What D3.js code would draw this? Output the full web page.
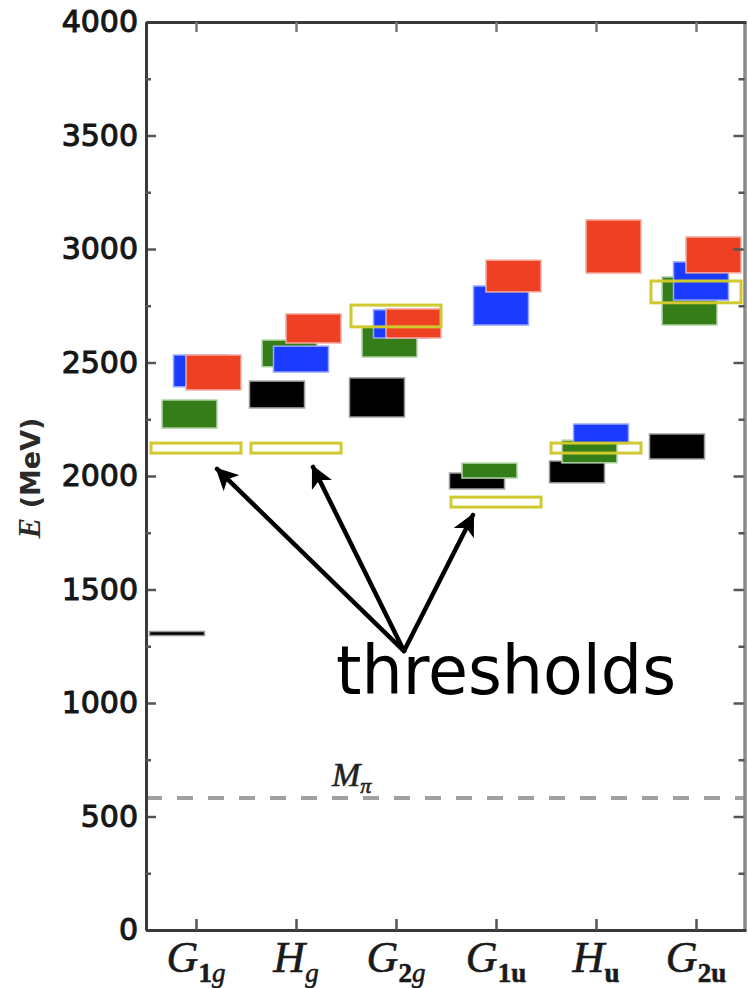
<!DOCTYPE html>
<html>
<head>
<meta charset="utf-8">
<script src="https://cdn.jsdelivr.net/npm/d3@7"></script>
<style>
  html, body { margin: 0; padding: 0; background: #fff; }
  svg { display: block; }
</style>
</head>
<body>
<script>
// Irreducible representations (lattice spectrum by symmetry channel)
const categories = ["G1g", "Hg", "G2g", "G1u", "Hu", "G2u"];
const catMain = ["G", "H", "G", "G", "H", "G"];
const catSub = [["1", "g"], ["", "g"], ["2", "g"], ["1", "u"], ["", "u"], ["2", "u"]];

// Energy levels (MeV): central value and half-height of the uncertainty band
const blackE = [1306, 2359, 2346, 1978, 2018, 2130];
const blackErr = [9, 59, 86, 35, 48, 55];
const greenE = [2273, 2540, 2590, 2024, 2108, 2771];
const greenErr = [62, 59, 66, 33, 50, 106];
const blueE = [2463, 2515, 2670, 2751, 2187, 2859];
const blueErr = [70, 57, 62, 86, 42, 84];
const redE = [2456, 2650, 2672, 2881, 3011, 2974];
const redErr = [77, 64, 64, 70, 117, 79];

// Two-particle thresholds
const thresholdE = [2123, 2123, 2705, 1885, 2123, 2811];
const thresholdErr = [22, 22, 48, 22, 22, 48];

// Pion mass line
const pionMass = 581;

// Axis ticks
const yMajorTicks = [0, 500, 1000, 1500, 2000, 2500, 3000, 3500, 4000];
const yMinorTicks = [250, 750, 1250, 1750, 2250, 2750, 3250, 3750];

const W = 748, H = 988;
const svg = d3.select("body").append("svg")
  .attr("width", W).attr("height", H)
  .attr("viewBox", `0 0 ${W} ${H}`);

const x = d3.scaleLinear().domain([-0.5, 5.5]).range([146, 746]);
const y = d3.scaleLinear().domain([0, 4000]).range([930, 22]);

const boxW = 0.55;   // box width in category units
const axisColor = "#3a3a3a";

// ---- level boxes ----
const series = [
  { E: blackE, err: blackErr, dx: -0.19, fill: "#000000", halo: "#9a9a9a" },
  { E: greenE, err: greenErr, dx: -0.065, fill: "#357d18", halo: "#b5d7a8" },
  { E: blueE,  err: blueErr,  dx: 0.05,  fill: "#1b3cff", halo: "#9aa6ff" },
  { E: redE,   err: redErr,   dx: 0.175, fill: "#ee4022", halo: "#f7aaa0" }
];

const plot = svg.append("g");
plot.append("clipPath").attr("id", "plotClip")
  .append("rect").attr("x", x(-0.5)).attr("y", y(4000))
  .attr("width", x(5.5) - x(-0.5)).attr("height", y(0) - y(4000));

const boxes = plot.append("g").attr("clip-path", "url(#plotClip)");

series.forEach(s => {
  boxes.append("g").selectAll("rect")
    .data(categories.map((c, i) => ({ i, e: s.E[i], d: s.err[i] })))
    .join("rect")
    .attr("x", d => x(d.i + s.dx - boxW / 2))
    .attr("width", d => x(d.i + s.dx + boxW / 2) - x(d.i + s.dx - boxW / 2))
    .attr("y", d => y(d.e + d.d))
    .attr("height", d => y(d.e - d.d) - y(d.e + d.d))
    .attr("fill", s.fill)
    .attr("stroke", s.halo)
    .attr("stroke-width", 1.5);
});

// ---- thresholds (open yellow boxes) ----
boxes.append("g").selectAll("rect")
  .data(categories.map((c, i) => ({ i, e: thresholdE[i], d: thresholdErr[i] })))
  .join("rect")
  .attr("x", d => x(d.i - 0.45))
  .attr("width", d => x(d.i + 0.45) - x(d.i - 0.45))
  .attr("y", d => y(d.e + d.d))
  .attr("height", d => y(d.e - d.d) - y(d.e + d.d))
  .attr("fill", "none")
  .attr("stroke", "#d0c930")
  .attr("stroke-width", 3);

// ---- pion mass dashed line ----
plot.append("line")
  .attr("x1", x(-0.5)).attr("x2", x(5.5))
  .attr("y1", y(pionMass)).attr("y2", y(pionMass))
  .attr("stroke", "#a0a0a0").attr("stroke-width", 4)
  .attr("stroke-dasharray", "16 15");

const mpi = svg.append("text")
  .attr("x", x(1.36)).attr("y", y(pionMass) - 12)
  .attr("font-family", "Liberation Serif, serif")
  .attr("font-style", "italic")
  .attr("font-size", 34)
  .attr("fill", "#222")
  .attr("stroke", "#222")
  .attr("stroke-width", 0.6);
mpi.append("tspan").text("M");
mpi.append("tspan").attr("dy", 7).attr("font-size", 22).text("π");

// ---- axes ----
function styleAxis(g) {
  g.select(".domain").attr("stroke", axisColor).attr("stroke-width", 3);
  g.selectAll(".tick line").attr("stroke", "#555").attr("stroke-width", 2.5);
}

// left
const leftMajor = svg.append("g").attr("transform", `translate(${x(-0.5)},0)`)
  .call(d3.axisLeft(y).tickValues(yMajorTicks).tickSize(-10).tickSizeOuter(0)
    .tickPadding(8).tickFormat(d3.format("d")));
styleAxis(leftMajor);
leftMajor.selectAll(".tick text")
  .attr("font-family", "DejaVu Sans, sans-serif")
  .attr("font-size", 30)
  .attr("fill", "#161616")
  .attr("stroke", "#161616")
  .attr("stroke-width", 1.1);

const leftMinor = svg.append("g").attr("transform", `translate(${x(-0.5)},0)`)
  .call(d3.axisLeft(y).tickValues(yMinorTicks).tickSize(-5).tickSizeOuter(0).tickFormat(""));
styleAxis(leftMinor);

// right
const rightMajor = svg.append("g").attr("transform", `translate(${x(5.5) - 1.5},0)`)
  .call(d3.axisRight(y).tickValues(yMajorTicks).tickSize(-11).tickSizeOuter(0).tickFormat(""));
styleAxis(rightMajor);
rightMajor.select(".domain").attr("stroke", "#8a8a8a");
const rightMinor = svg.append("g").attr("transform", `translate(${x(5.5) - 1.5},0)`)
  .call(d3.axisRight(y).tickValues(yMinorTicks).tickSize(-6).tickSizeOuter(0).tickFormat(""));
styleAxis(rightMinor);
rightMinor.select(".domain").attr("stroke", "#8a8a8a");

// bottom
const bottomAxis = svg.append("g").attr("transform", `translate(0,${y(0)})`)
  .call(d3.axisBottom(x).tickValues(d3.range(categories.length)).tickSize(-11).tickSizeOuter(0).tickFormat(""));
styleAxis(bottomAxis);

// top
const topAxis = svg.append("g").attr("transform", `translate(0,${y(4000)})`)
  .call(d3.axisTop(x).tickValues(d3.range(categories.length)).tickSize(-10).tickSizeOuter(0).tickFormat(""));
styleAxis(topAxis);
topAxis.selectAll(".tick line").attr("stroke", "#777");

// category labels
const catLabels = svg.append("g").selectAll("text")
  .data(categories.map((c, i) => i))
  .join("text")
  .attr("x", i => x(i))
  .attr("y", 972)
  .attr("text-anchor", "middle")
  .attr("font-family", "Liberation Serif, serif")
  .attr("fill", "#1a1a1a")
  .attr("stroke", "#1a1a1a")
  .attr("stroke-width", 0.6);
catLabels.each(function (i) {
  const t = d3.select(this);
  t.append("tspan").attr("font-style", "italic").attr("font-size", 44).text(catMain[i]);
  const [num, par] = catSub[i];
  if (num) {
    t.append("tspan").attr("dy", 10).attr("font-size", 27).attr("font-weight", "bold").text(num);
    t.append("tspan")
      .attr("font-size", 27)
      .attr("font-style", par === "g" ? "italic" : "normal")
      .attr("font-weight", par === "u" ? "bold" : "normal")
      .text(par);
  } else {
    t.append("tspan").attr("dy", 10).attr("font-size", 27)
      .attr("font-style", par === "g" ? "italic" : "normal")
      .attr("font-weight", par === "u" ? "bold" : "normal")
      .text(par);
  }
});

// y-axis title
const ytitle = svg.append("text")
  .attr("transform", `translate(40,478) rotate(-90)`)
  .attr("text-anchor", "middle")
  .attr("font-family", "DejaVu Sans, sans-serif")
  .attr("font-size", 27)
  .attr("font-weight", "bold")
  .attr("fill", "#2a2a2a");
ytitle.append("tspan").attr("font-family", "Liberation Serif, serif").attr("font-style", "italic").attr("font-size", 31).text("E");
ytitle.append("tspan").text(" (MeV)");

// ---- "thresholds" annotation with arrows ----
const arrowOrigin = { c: 2.08, v: 1229 };
const arrowTargets = [
  { c: 0.21, v: 2031 },
  { c: 1.17, v: 2040 },
  { c: 2.77, v: 1828 }
];

const defs = svg.append("defs");
defs.append("marker")
  .attr("id", "head")
  .attr("viewBox", "0 0 10 10")
  .attr("refX", 9).attr("refY", 5)
  .attr("markerWidth", 5).attr("markerHeight", 5)
  .attr("markerUnits", "strokeWidth")
  .attr("orient", "auto")
  .append("path").attr("d", "M0,0 L10,5 L0,10 L2.5,5 Z").attr("fill", "#000");

svg.append("g").selectAll("line")
  .data(arrowTargets)
  .join("line")
  .attr("x1", x(arrowOrigin.c)).attr("y1", y(arrowOrigin.v))
  .attr("x2", d => x(d.c)).attr("y2", d => y(d.v))
  .attr("stroke", "#000").attr("stroke-width", 4.5)
  .attr("stroke-linecap", "round")
  .attr("marker-end", "url(#head)");

svg.append("text")
  .attr("x", 336).attr("y", 694)
  .attr("font-family", "DejaVu Sans, sans-serif")
  .attr("font-size", 68)
  .attr("textLength", 340)
  .attr("lengthAdjust", "spacingAndGlyphs")
  .attr("fill", "#000")
  .text("thresholds");
</script>
</body>
</html>
